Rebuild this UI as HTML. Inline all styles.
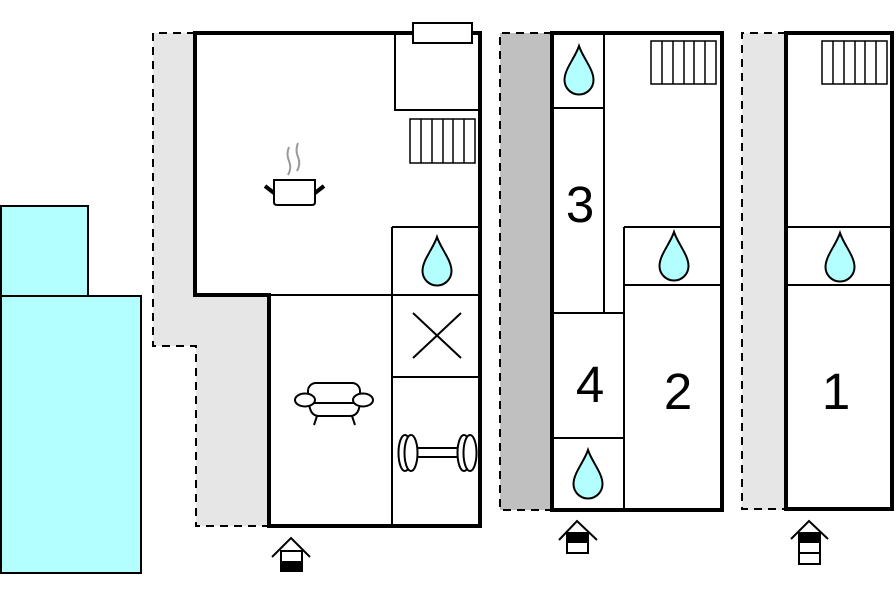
<!DOCTYPE html>
<html><head><meta charset="utf-8"><style>
html,body{margin:0;padding:0;background:#fff;width:896px;height:597px;overflow:hidden}
svg{display:block}
text{font-family:"Liberation Sans",Arial,sans-serif;font-size:51px;fill:#000}
</style></head><body>
<svg width="896" height="597" viewBox="0 0 896 597" xmlns="http://www.w3.org/2000/svg">
<defs>
<path id="drop" d="M0,0 C-4,12 -14.5,23 -14.5,34 A14.5,14.5 0 0 0 14.5,34 C14.5,23 4,12 0,0 Z" fill="#b3ffff" stroke="#000" stroke-width="2"/>
</defs>

<!-- Pool -->
<rect x="1" y="206" width="87" height="90" fill="#b3ffff" stroke="#000" stroke-width="2"/>
<rect x="1" y="296" width="140" height="277" fill="#b3ffff" stroke="#000" stroke-width="2"/>

<!-- Building 1 -->
<polygon points="153,33 195,33 195,295 269,295 269,526 196,526 196,346 153,346" fill="#e6e6e6"/>
<polyline points="195,33 153,33 153,346 196,346 196,526 269,526" fill="none" stroke="#000" stroke-width="2" stroke-dasharray="8,6"/>
<g stroke="#000" stroke-width="2" fill="none">
<polyline points="395,33 395,110 480,110"/>
<line x1="392" y1="227" x2="480" y2="227"/>
<line x1="392" y1="227" x2="392" y2="526"/>
<line x1="269" y1="295" x2="480" y2="295"/>
<line x1="392" y1="377" x2="480" y2="377"/>
</g>
<path d="M195,33 L480,33 L480,526 L269,526 L269,295 L195,295 Z" fill="none" stroke="#000" stroke-width="4"/>
<rect x="413" y="23" width="59" height="20" fill="#fff" stroke="#000" stroke-width="2"/>
<!-- stairs B1 -->
<g stroke="#000" stroke-width="1.5" fill="#fff">
<rect x="410" y="119" width="65" height="44"/>
<path d="M421,119V163M432,119V163M443,119V163M453,119V163M464,119V163" fill="none"/>
</g>
<!-- pot -->
<path d="M289,147 q-3,7 0,14 q3,7 -1,14" fill="none" stroke="#999" stroke-width="2"/>
<path d="M298,143 q-3,7 0,14 q3,7 -1,14" fill="none" stroke="#999" stroke-width="2"/>
<path d="M274,180 L315,180 L315,202 Q315,205 312,205 L277,205 Q274,205 274,202 Z" fill="#fff" stroke="#000" stroke-width="2"/>
<line x1="265" y1="186" x2="274" y2="193" stroke="#000" stroke-width="4"/>
<line x1="315" y1="193" x2="324" y2="186" stroke="#000" stroke-width="4"/>
<use href="#drop" x="437" y="237"/>
<line x1="413" y1="313" x2="461" y2="358" stroke="#000" stroke-width="2"/>
<line x1="413" y1="358" x2="461" y2="313" stroke="#000" stroke-width="2"/>
<!-- sofa -->
<g stroke="#000" stroke-width="2" fill="#fff">
<rect x="308" y="383" width="52" height="22" rx="8"/>
<path d="M309,400 Q309,416 319,416 L350,416 Q360,416 360,400"/>
<line x1="314" y1="403" x2="354" y2="403"/>
<line x1="317" y1="416" x2="314" y2="425"/>
<line x1="352" y1="416" x2="355" y2="425"/>
<ellipse cx="305" cy="400" rx="10" ry="6.5"/>
<ellipse cx="363" cy="400" rx="10" ry="6.5"/>
</g>
<!-- dumbbell -->
<g stroke="#000" stroke-width="2" fill="#fff">
<rect x="414" y="448" width="46" height="9"/>
<ellipse cx="405" cy="453" rx="6.5" ry="18"/>
<ellipse cx="411" cy="453" rx="6.5" ry="18"/>
<ellipse cx="464" cy="453" rx="6.5" ry="18"/>
<ellipse cx="470" cy="453" rx="6.5" ry="18"/>
</g>
<!-- entrance B1 -->
<polyline points="272,557 291,538 310,557" fill="none" stroke="#000" stroke-width="2"/>
<rect x="281" y="551" width="21" height="20" fill="#fff" stroke="#000" stroke-width="2"/>
<rect x="281" y="561" width="21" height="10" fill="#000"/>

<!-- Building 2 -->
<rect x="500" y="33" width="52" height="477" fill="#c0c0c0"/>
<polyline points="552,33 500,33 500,510 552,510" fill="none" stroke="#000" stroke-width="2" stroke-dasharray="8,6"/>
<g stroke="#000" stroke-width="2" fill="none">
<line x1="552" y1="108" x2="604" y2="108"/>
<line x1="604" y1="33" x2="604" y2="313"/>
<line x1="552" y1="313" x2="624" y2="313"/>
<line x1="624" y1="227" x2="722" y2="227"/>
<line x1="624" y1="285" x2="722" y2="285"/>
<line x1="624" y1="227" x2="624" y2="510"/>
<line x1="552" y1="438" x2="624" y2="438"/>
</g>
<rect x="552" y="33" width="170" height="477" fill="none" stroke="#000" stroke-width="4"/>
<g stroke="#000" stroke-width="1.5" fill="#fff">
<rect x="651" y="41" width="65" height="43"/>
<path d="M662,41V84M673,41V84M684,41V84M694,41V84M705,41V84" fill="none"/>
</g>
<use href="#drop" x="579" y="46"/>
<use href="#drop" x="674" y="232"/>
<use href="#drop" x="588" y="450"/>
<text x="580" y="222" text-anchor="middle">3</text>
<text x="590" y="402" text-anchor="middle">4</text>
<text x="678" y="409" text-anchor="middle">2</text>
<polyline points="559,540 577,521 597,540" fill="none" stroke="#000" stroke-width="2"/>
<rect x="567" y="533" width="21" height="20" fill="#fff" stroke="#000" stroke-width="2"/>
<rect x="567" y="533" width="21" height="10" fill="#000"/>

<!-- Building 3 -->
<rect x="742" y="33" width="44" height="477" fill="#e6e6e6"/>
<polyline points="786,33 742,33 742,509 786,509" fill="none" stroke="#000" stroke-width="2" stroke-dasharray="8,6"/>
<g stroke="#000" stroke-width="2" fill="none">
<line x1="786" y1="227" x2="892" y2="227"/>
<line x1="786" y1="285" x2="892" y2="285"/>
</g>
<rect x="786" y="33" width="106" height="476" fill="none" stroke="#000" stroke-width="4"/>
<g stroke="#000" stroke-width="1.5" fill="#fff">
<rect x="822" y="41" width="65" height="43"/>
<path d="M833,41V84M844,41V84M855,41V84M865,41V84M876,41V84" fill="none"/>
</g>
<use href="#drop" x="840" y="233"/>
<text x="836" y="409" text-anchor="middle">1</text>
<polyline points="791,539 809,521 828,539" fill="none" stroke="#000" stroke-width="2"/>
<rect x="799" y="533" width="21" height="31" fill="#fff" stroke="#000" stroke-width="2"/>
<rect x="799" y="533" width="21" height="10" fill="#000"/>
<line x1="799" y1="553" x2="820" y2="553" stroke="#000" stroke-width="2"/>
</svg>
</body></html>
